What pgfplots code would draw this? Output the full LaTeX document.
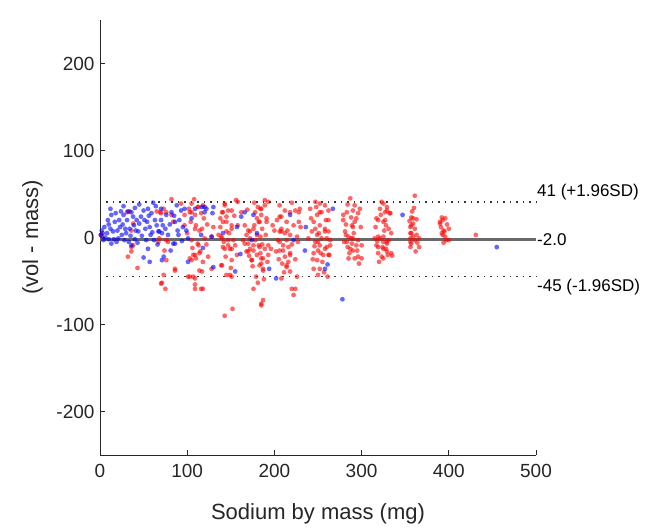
\documentclass[border=0pt]{standalone}
\usepackage{pgfplots}
\pgfplotsset{compat=1.18}
\usepackage{fontspec}
\setmainfont{Liberation Sans}
\definecolor{axgray}{RGB}{38,38,38}
\definecolor{mredc}{RGB}{255,0,0}
\definecolor{mbluec}{RGB}{0,0,255}
\definecolor{meangray}{RGB}{105,105,105}

\pgfplotstableread{
x y
2 2
1 3
34 30
31 29
65 30
69 29
73 33
67 -5
76 -3
36 -11
32 -22
43 -35
73 -43
71 -52
75 -59
86 -36
82 44
97 26
108 44
113 35
118 37
105 29
109 10
117 10
97 14
120 -1
113 -9
109 -20
105 -26
115 -16
103 -45
109 -47
109 -54
118 -59
117 -39
128 1
136 3
143 37
147 31
151 31
140 29
145 18
151 10
140 -1
147 -9
143 -13
151 -13
155 -9
151 -26
140 -32
149 -43
143 -90
152 -82
189 43
184 33
178 29
185 26
182 18
176 10
172 7
184 1
178 -3
170 -7
182 -9
176 -15
184 -18
187 -24
174 -26
185 -30
187 -38
176 -59
185 -76
187 -72
168 -16
164 -3
168 3
180 22
189 37
191 18
193 -9
189 -13
172 -13
206 37
212 31
218 29
224 31
228 29
229 33
208 24
214 18
208 10
206 7
212 5
218 3
226 1
214 -3
210 -9
216 -11
206 -15
218 -18
212 -22
216 -28
214 -34
218 -39
208 -47
220 -59
222 -66
224 -59
204 -3
228 18
222 14
241 33
247 41
252 39
258 37
262 31
254 29
249 26
245 18
252 14
258 10
243 7
249 3
254 -1
260 -1
247 -5
252 -9
258 -13
250 -15
245 -18
256 -20
262 -20
249 -26
245 -36
252 -36
250 -43
239 -1
264 -9
262 7
287 45
279 26
283 29
290 31
296 28
294 22
289 14
281 7
285 1
290 -1
296 -3
283 -5
289 -7
294 -9
300 -9
287 -13
285 -24
292 -24
300 -24
298 33
292 37
325 39
321 33
329 31
317 22
325 18
321 -1
317 -9
325 -13
319 -18
325 -24
329 -7
331 10
315 -1
323 41
329 35
333 28
327 20
325 1
329 -5
324 -11
329 -16
323 -22
335 -21
361 48
357 23
363 21
359 16
356 12
361 10
357 5
363 3
356 -1
361 -3
357 -7
356 -11
366 -11
392 23
390 18
396 22
400 10
394 8
392 5
396 1
400 -3
431 3
279 20
292 18
290 12
282 3
288 -1
280 -5
284 -11
290 -15
296 -22
327 29
332 28
319 20
328 14
319 1
325 -5
319 -11
328 -13
334 -18
330 -20
359 22
357 14
356 5
359 1
366 -1
356 -5
393 20
390 16
395 7
393 3
397 -3
143 39
156 43
141 29
145 24
141 18
151 14
145 7
139 1
147 -3
141 -11
149 -13
139 -32
145 -43
151 -45
181 35
185 33
183 18
177 14
170 8
180 3
172 -1
166 -7
176 -9
183 -11
170 -16
180 -20
185 -24
174 -26
183 -32
187 -36
185 -78
198 14
200 8
196 -13
202 -16
193 -20
193 41
191 22
158 41
162 29
158 14
206 24
208 7
206 -5
210 -15
218 -20
214 -32
252 29
262 20
247 10
258 7
250 -5
260 -11
253 -18
263 -20
93 39
70 28
76 29
105 39
112 35
103 29
109 26
116 28
110 14
114 8
105 -3
112 -7
107 -20
114 -18
124 -22
103 -24
110 -24
114 -38
101 -45
107 -45
116 -59
109 -59
74 -15
76 -26
86 -38
70 -53
82 26
84 18
68 -1
78 -5
128 -36
130 12
38 16
36 8
38 -9
36 -16
100 5
104 18
119 22
122 -8
106 -12
118 -28
123 15
102 33
138 22
142 -5
148 5
153 -3
157 -20
144 -22
150 -35
138 12
154 25
166 14
171 -21
175 -33
179 -45
186 -8
190 3
192 -28
169 32
177 40
186 10
181 -52
188 -48
203 20
209 -30
215 8
220 -8
224 -25
227 -5
230 12
211 -40
220 40
226 -45
205 -25
242 22
246 -10
251 5
255 -28
259 20
264 -3
248 35
257 -40
244 -25
261 -45
282 15
286 -18
291 5
295 -15
299 12
284 38
297 -30
288 23
316 12
320 -28
326 8
331 -3
334 5
322 26
318 -4
358 30
364 -6
355 19
362 -16
360 34
391 12
398 15
394 -6
}\redpts

\pgfplotstableread{
x y
2 8
1 3
13 26
17 18
23 12
15 7
13 -7
27 26
32 30
36 29
31 20
34 10
39 14
44 7
50 31
55 33
54 18
52 10
57 12
61 40
59 28
65 14
67 7
71 5
75 10
76 26
82 29
84 -7
86 18
93 31
97 33
105 22
101 -1
109 33
117 35
120 35
129 28
118 -12
55 -13
50 -23
57 -28
73 -22
71 -26
86 -7
101 -28
130 -34
155 -39
157 12
162 24
36 -9
21 -1
19 -5
5 12
8 5
10 15
20 8
25 3
28 -3
30 5
35 2
40 -2
42 20
45 16
47 24
58 3
62 -3
70 20
80 15
90 3
95 12
10 -2
6 0
18 28
24 30
40 34
45 38
166 29
176 26
180 5
174 -3
161 -19
194 -36
202 -47
218 26
222 -3
235 -15
236 12
261 -31
258 -36
267 33
278 -71
141 5
70 33
68 7
89 8
116 3
130 35
122 33
128 1
120 29
347 26
455 -11
3 5
4 -3
9 20
12 10
16 -2
22 20
26 15
29 10
33 -5
38 24
41 8
43 -6
48 2
51 20
53 -3
56 25
60 6
63 20
66 -8
72 14
78 3
81 -15
85 25
91 20
94 -4
99 8
27 36
12 33
64 36
88 37
}\bluepts

\begin{document}
\begin{tikzpicture}
\begin{axis}[name=ax,
  scale only axis, width=436pt, height=435pt,
  xmin=0, xmax=500, ymin=-250, ymax=250,
  axis lines=left, axis line style={-, axgray, line width=0.9pt},
  xtick={0,100,200,300,400,500}, ytick={-200,-100,0,100,200},
  tick align=inside, major tick length=5pt,
  tick style={axgray, line width=0.9pt},
  ticklabel style={font=\fontsize{19}{22}\selectfont, text=axgray},
  /pgf/number format/assume math mode=true,
  xticklabel style={yshift=-6pt},
  yticklabel style={xshift=-2pt},
  xlabel={Sodium by mass (mg)}, ylabel={(vol - mass)},
  label style={font=\fontsize{22}{26}\selectfont, text=axgray},
  xlabel style={at={(axis description cs:0.5,-0.135)}, anchor=center},
  ylabel style={at={(axis description cs:-0.155,0.5)}, anchor=center},
  clip=false,
]
\addplot[only marks, color=mredc, mark=*, mark size=2.4pt, mark options={draw opacity=0, fill=mredc, fill opacity=0.6}] table[x=x,y=y] {\redpts};
\addplot[only marks, color=mbluec, mark=*, mark size=2.4pt, mark options={draw opacity=0, fill=mbluec, fill opacity=0.6}] table[x=x,y=y] {\bluepts};
\addplot[black!80, line width=1.7pt, dash pattern=on 1.5pt off 5pt] coordinates {(0,41) (500,41)};
\addplot[black!80, line width=1.7pt, dash pattern=on 1.5pt off 5pt] coordinates {(0,-45) (500,-45)};
\addplot[meangray, line width=2.8pt] coordinates {(0,-2) (500,-2)};
\node[anchor=base west, inner sep=0pt, font=\fontsize{17}{20}\selectfont, text=black] at ([xshift=1pt,yshift=5pt]axis cs:500,41) {41 (+1.96SD)};
\node[anchor=west, inner sep=0pt, font=\fontsize{17}{20}\selectfont, text=black] at ([xshift=1pt]axis cs:500,-2) {-2.0};
\node[anchor=base west, inner sep=0pt, font=\fontsize{17}{20}\selectfont, text=black] at ([xshift=1pt,yshift=-15pt]axis cs:500,-45) {-45 (-1.96SD)};
\end{axis}
\pgfresetboundingbox
\path ([shift={(-100pt,-74pt)}]ax.south west) rectangle ([shift={(120pt,20pt)}]ax.north east);
\end{tikzpicture}
\end{document}
